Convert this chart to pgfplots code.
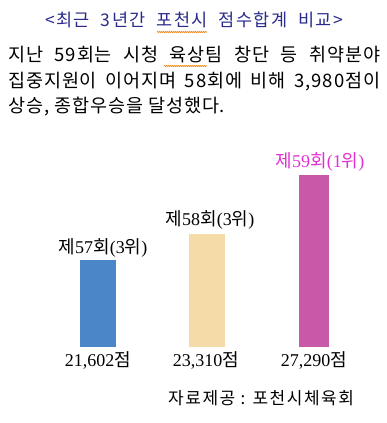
\documentclass[border=0pt]{standalone}
\usepackage{pgfplots}
\pgfplotsset{compat=1.18}
\usepackage{fontspec}
\setmainfont{Liberation Serif}
\newfontfamily\kr{Noto Sans CJK KR}
\newfontfamily\krp[LetterSpace=5]{Noto Sans CJK KR}
\newfontfamily\krt[LetterSpace=8]{Noto Sans CJK KR}
\newfontfamily\krs[LetterSpace=9]{Noto Sans CJK KR}
\usetikzlibrary{decorations.pathmorphing}
\definecolor{titleblue}{HTML}{2B2B8C}
\definecolor{barblue}{HTML}{4A86C8}
\definecolor{barbeige}{HTML}{F5DBA8}
\definecolor{barmag}{HTML}{C858A8}
\definecolor{labmag}{HTML}{E030D0}
\begin{document}
\begin{tikzpicture}[x=1pt,y=1pt]
\useasboundingbox[fill=white] (0,0) rectangle (386,423);
\begin{axis}[at={(0pt,76pt)},anchor=south west,scale only axis,
  width=386pt,height=200pt,xmin=0,xmax=386,ymin=15800,ymax=29150,
  axis lines=none,ticks=none]
\addplot[ybar,bar width=36pt,bar shift=0pt,fill=barblue,draw=none] coordinates {(98,21602)};
\addplot[ybar,bar width=36pt,bar shift=0pt,fill=barbeige,draw=none] coordinates {(207,23310)};
\addplot[ybar,bar width=30pt,bar shift=0pt,fill=barmag,draw=none] coordinates {(314,27290)};
\end{axis}
% title
\node[anchor=base west,inner sep=0,text=titleblue,font=\krt\fontsize{17.5pt}{20pt}\selectfont] at (45,423-27) {\makebox[298pt][s]{<최근 3년간 포천시 점수합계 비교>}};
% paragraph
\begin{scope}[every node/.style={anchor=base west,inner sep=0,font=\krp\fontsize{18.5pt}{22pt}\selectfont}]
\node at (8,423-62) {\makebox[372pt][s]{지난 59회는 시청 육상팀 창단 등 취약분야}};
\node at (8,423-88) {\makebox[372pt][s]{집중지원이 이어지며 58회에 비해 3,980점이}};
\node at (8,423-113) {상승, 종합우승을 달성했다.};
\end{scope}
% spell squiggles
\draw[orange!80!brown,line width=0.6pt,decorate,decoration={snake,amplitude=0.6pt,segment length=2pt}] (157,423-32) -- (207,423-32);
\draw[orange!80!brown,line width=0.6pt,decorate,decoration={snake,amplitude=0.6pt,segment length=2pt}] (164,423-66) -- (207,423-66);
% bar labels
\begin{scope}[every node/.style={anchor=base,inner sep=0,font=\fontsize{18pt}{21pt}\selectfont}]
\node at (103,423-254) {{\kr 제}57{\kr 회}(3{\kr 위})};
\node at (210,423-226) {{\kr 제}58{\kr 회}(3{\kr 위})};
\node[text=labmag] at (320,423-168) {{\kr 제}59{\kr 회}(1{\kr 위})};
\node at (98,423-367) {21,602{\kr 점}};
\node at (206,423-367) {23,310{\kr 점}};
\node at (314,423-367) {27,290{\kr 점}};
\end{scope}
\node[anchor=base west,inner sep=0,font=\fontsize{17pt}{20pt}\selectfont] at (168,423-404) {\krs 자료제공 : 포천시체육회};
\end{tikzpicture}
\end{document}
